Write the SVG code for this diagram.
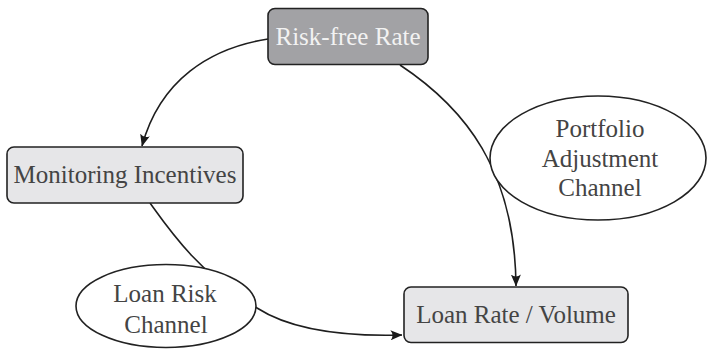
<svg xmlns="http://www.w3.org/2000/svg" width="707" height="349" viewBox="0 0 707 349">
  <defs>
    <marker id="arr" viewBox="0 0 12 10" refX="11.5" refY="5" markerWidth="12" markerHeight="10" orient="auto" markerUnits="userSpaceOnUse">
      <path d="M0,0 L12,5 L0,10 Q4,5 0,0 z" fill="#1a1a1a"/>
    </marker>
  </defs>
  <style>
    .box { stroke: #222; stroke-width: 1.6; }
    .light { fill: #e6e6e8; }
    .dark { fill: #a2a2a5; }
    .ell { fill: #ffffff; stroke: #222; stroke-width: 1.6; }
    text { font-family: "Liberation Serif", Tinos, "Times New Roman", "Noto Serif", "DejaVu Serif", FreeSerif, serif; font-size: 25px; fill: #444; text-anchor: middle; }
    text.tw { fill: #f2f2f2; }
    .edge { fill: none; stroke: #1e1e1e; stroke-width: 1.6; }
  </style>
  <g id="connectors">
    <path class="edge" d="M268,39 C210,48 160,80 142,146" marker-end="url(#arr)"/>
    <path class="edge" d="M400,65 C465,108 515,170 516,286" marker-end="url(#arr)"/>
    <path class="edge" d="M150,203 C168,228 200,275 257,308 C285,326 330,337 402,335" marker-end="url(#arr)"/>
  </g>
  <g id="risk-free-rate">
    <rect class="box dark" x="268" y="8.5" width="160" height="56" rx="7"/>
    <text class="tw" x="348" y="45">Risk-free Rate</text>
  </g>
  <g id="monitoring-incentives">
    <rect class="box light" x="7" y="147" width="236" height="56" rx="7"/>
    <text x="125" y="183">Monitoring Incentives</text>
  </g>
  <g id="loan-rate-volume">
    <rect class="box light" x="404" y="287" width="224" height="55.5" rx="7"/>
    <text x="516" y="323">Loan Rate / Volume</text>
  </g>
  <g id="portfolio-adjustment-channel">
    <ellipse class="ell" cx="598" cy="158" rx="108" ry="62"/>
    <text x="600" y="137">Portfolio</text>
    <text x="600" y="166.5">Adjustment</text>
    <text x="600" y="196">Channel</text>
  </g>
  <g id="loan-risk-channel">
    <ellipse class="ell" cx="166" cy="306" rx="90" ry="41.5"/>
    <text x="165" y="301.5">Loan Risk</text>
    <text x="166" y="332.5">Channel</text>
  </g>
</svg>
